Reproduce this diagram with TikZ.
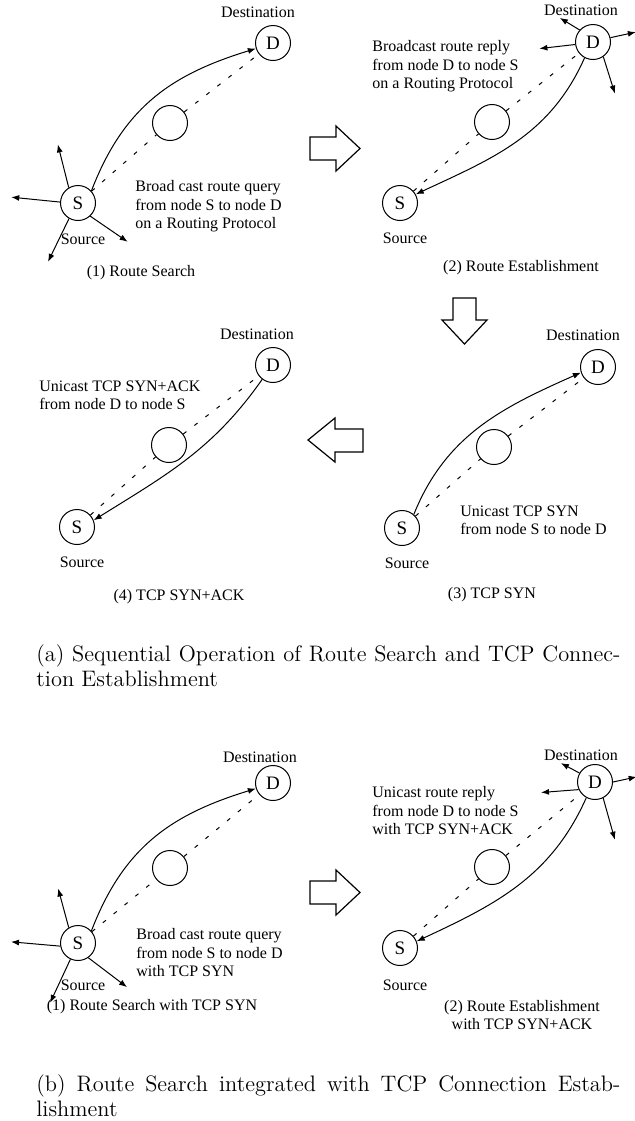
\documentclass[tikz,border=0pt]{standalone}
\usepackage{fontspec}
\newfontfamily\figfont{Liberation Serif}
\usetikzlibrary{arrows.meta,calc}

\begin{document}
\begin{tikzpicture}[
  x=0.5pt,y=0.5pt,
  every node/.style={font=\figfont\fontsize{8}{9.3}\selectfont,inner sep=0pt},
  host/.style={circle,draw,line width=0.5pt,minimum size=17.5pt,font=\figfont\fontsize{9.5}{11}\selectfont},
  relay/.style={circle,draw,line width=0.5pt,minimum size=17.5pt},
  msg/.style={-{Latex[length=4pt,width=3pt]},line width=0.5pt},
  probe/.style={line width=0.5pt,dash pattern=on 2pt off 5pt},
  blockarr/.style={draw,line width=0.6pt,fill=white},
  note/.style={anchor=north west,align=left},
  caption/.style={font=\normalfont\fontsize{11.2}{12.5}\selectfont,anchor=north west,text width=292pt,align=justify}
]
\useasboundingbox (0,0) rectangle (635,-1121);

\node[host] (s1) at (78,-203) {S};
\node[host] (d1) at (273,-43) {D};
\node[relay] (m1) at (170,-123) {};
\node (dl1) at (258,-12) {Destination};
\node (sl1) at (83,-239) {Source};
\node[note] (n1) at (135,-180) {Broad cast route query\\from node S to node D\\on a Routing Protocol};
\node (t1) at (141,-273) {(1) Route Search};
\draw[probe] (s1)--(m1); \draw[probe] (m1)--(d1);
\draw[msg] (s1.42) to[out=69,in=197,looseness=1.05] (d1.198);
\foreach \sa/\ta/\l [count=\i] in {121/109/62,177/175/67,313/322/63,240/243/66}
  {\coordinate (e1\i) at ($(s1)+(\ta:\l)$); \draw[msg] (s1.\sa)--(e1\i);}

\node[host] (s2) at (400,-203) {S};
\node[host] (d2) at (593,-42) {D};
\node[relay] (m2) at (492,-122) {};
\node (dl2) at (581,-10) {Destination};
\node (sl2) at (405,-238) {Source};
\node[note] (n2) at (372,-40) {Broadcast route reply\\from node D to node S\\on a Routing Protocol};
\node (t2) at (521,-268) {(2) Route Establishment};
\draw[probe] (s2)--(m2); \draw[probe] (m2)--(d2);
\draw[msg] (d2.242) to[out=246,in=25] (s2.29);
\foreach \sa/\ta/\l [count=\i] in {138/144/41,188/187/54,14/13/44,305/293/56}
  {\coordinate (e2\i) at ($(d2)+(\ta:\l)$); \draw[msg] (d2.\sa)--(e2\i);}

\node[host] (s3) at (402,-528) {S};
\node[host] (d3) at (598,-367) {D};
\node[relay] (m3) at (494,-447) {};
\node (dl3) at (583,-335) {Destination};
\node (sl3) at (407,-563) {Source};
\node[note] (n3) at (460,-505) {Unicast TCP SYN\\from node S to node D};
\node (t3) at (492,-595) {(3) TCP SYN};
\draw[probe] (s3)--(m3); \draw[probe] (m3)--(d3);
\draw[msg] (s3.49) to[out=68,in=204] (d3.198);

\node[host] (s4) at (77,-527) {S};
\node[host] (d4) at (273,-365) {D};
\node[relay] (m4) at (169,-445) {};
\node (dl4) at (257,-334) {Destination};
\node (sl4) at (82,-562) {Source};
\node[note] (n4) at (39,-380) {Unicast TCP SYN+ACK\\from node D to node S};
\node (t4) at (179,-597) {(4) TCP SYN+ACK};
\draw[probe] (s4)--(m4); \draw[probe] (m4)--(d4);
\draw[msg] (d4.233) to[out=235,in=32] (s4.22);

\draw[blockarr] (310,-137)--(336,-137)--(336,-126)--(360,-148.5)--(336,-171)--(336,-160)--(310,-160)--cycle;
\draw[blockarr] (453,-298)--(476,-298)--(476,-320)--(487,-320)--(464.5,-344)--(442,-320)--(453,-320)--cycle;
\draw[blockarr] (363,-429)--(335,-429)--(335,-418)--(308,-440)--(335,-462)--(335,-452)--(363,-452)--cycle;

\node[caption] (capa) at (36,-644) {\noindent(a) Sequential Operation of Route Search and TCP Connec-\linebreak tion Establishment};

\node[host] (s5) at (78,-943) {S};
\node[host] (d5) at (273,-783) {D};
\node[relay] (m5) at (170,-868) {};
\node (dl5) at (260,-757) {Destination};
\node (sl5) at (83,-985) {Source};
\node[note] (n5) at (136,-928) {Broad cast route query\\from node S to node D\\with TCP SYN};
\node (t5) at (152,-1007) {(1) Route Search with TCP SYN};
\draw[probe] (s5)--(m5); \draw[probe] (m5)--(d5);
\draw[msg] (s5.42) to[out=69,in=197,looseness=1.05] (d5.198);
\foreach \sa/\ta/\l [count=\i] in {121/110/58,190/179/67,305/318/66,245/245/66}
  {\coordinate (e5\i) at ($(s5)+(\ta:\l)$); \draw[msg] (s5.\sa)--(e5\i);}

\node[host] (s6) at (400,-948) {S};
\node[host] (d6) at (595,-782) {D};
\node[relay] (m6) at (492,-867) {};
\node (dl6) at (581,-755) {Destination};
\node (sl6) at (405,-985) {Source};
\node[note] (n6) at (372,-786) {Unicast route reply\\from node D to node S\\with TCP SYN+ACK};
\node[align=center] (t6) at (522,-1015) {(2) Route Establishment\\with TCP SYN+ACK};
\draw[probe] (s6)--(m6); \draw[probe] (m6)--(d6);
\draw[msg] (d6.241) to[out=246,in=25] (s6.22);
\foreach \sa/\ta/\l [count=\i] in {150/151/39,205/191/55,0/7/42,297/289/61}
  {\coordinate (e6\i) at ($(d6)+(\ta:\l)$); \draw[msg] (d6.\sa)--(e6\i);}

\draw[blockarr] (310,-881)--(336,-881)--(336,-870)--(360,-892.5)--(336,-915)--(336,-904)--(310,-904)--cycle;

\node[caption] (capb) at (36,-1074) {\noindent(b) Route Search integrated with TCP Connection Estab-\linebreak lishment};
\end{tikzpicture}
\end{document}
